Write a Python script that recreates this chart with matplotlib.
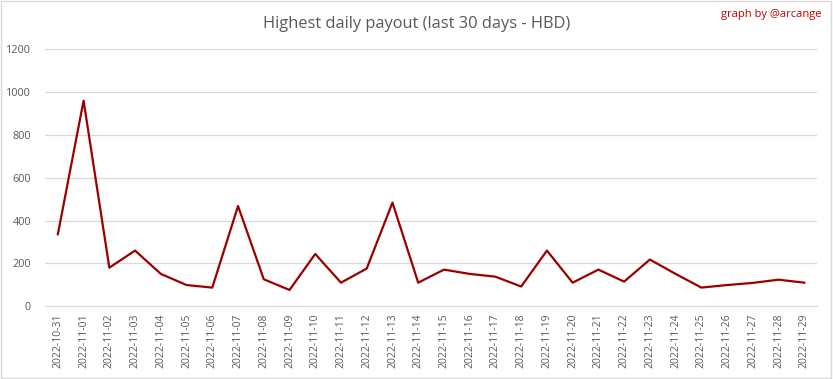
import matplotlib.pyplot as plt
import matplotlib.patches as patches

dates = ['2022-10-31'] + ['2022-11-%02d' % d for d in range(1, 30)]
payout = [336, 960, 180, 260, 151, 99, 87, 468, 126, 76,
          244, 110, 176, 484, 110, 171, 151, 138, 92, 260,
          110, 171, 115, 218, 151, 87, 99, 109, 124, 110]

plt.rcParams['font.family'] = ['Open Sans', 'DejaVu Sans']

fig = plt.figure(figsize=(8.33, 3.79), dpi=100)
ax = fig.add_axes([0.054, 0.192, 0.927, 0.678])

x = list(range(len(dates)))
ax.plot(x, payout, color='#9b0000', linewidth=1.6)

ax.set_xlim(-0.5, len(dates) - 0.5)
ax.set_ylim(0, 1200)
ax.set_yticks(range(0, 1201, 200))
ax.set_xticks(x)
ax.set_xticklabels(dates, rotation=90, fontsize=7.5, color='#595959')
ax.tick_params(axis='y', labelsize=7.8, labelcolor='#595959', length=0, pad=10)
ax.tick_params(axis='x', length=0, pad=5)
ax.grid(axis='y', color='#d9d9d9', linewidth=0.9)
ax.set_axisbelow(True)
for side in ['top', 'right', 'left']:
    ax.spines[side].set_visible(False)
ax.spines['bottom'].set_color('#d9d9d9')

fig.text(0.5, 0.937, 'Highest daily payout (last 30 days - HBD)', ha='center', va='center',
         fontsize=11.8, color='#595959')
fig.text(0.986, 0.962, 'graph by @arcange', ha='right', va='center', fontsize=8, color='#c00000')

fig.patches.append(patches.Rectangle((0.001, 0.002), 0.997, 0.995, transform=fig.transFigure,
                                     fill=False, edgecolor='#d9d9d9', linewidth=1))

fig.savefig('out.png', dpi=100)
